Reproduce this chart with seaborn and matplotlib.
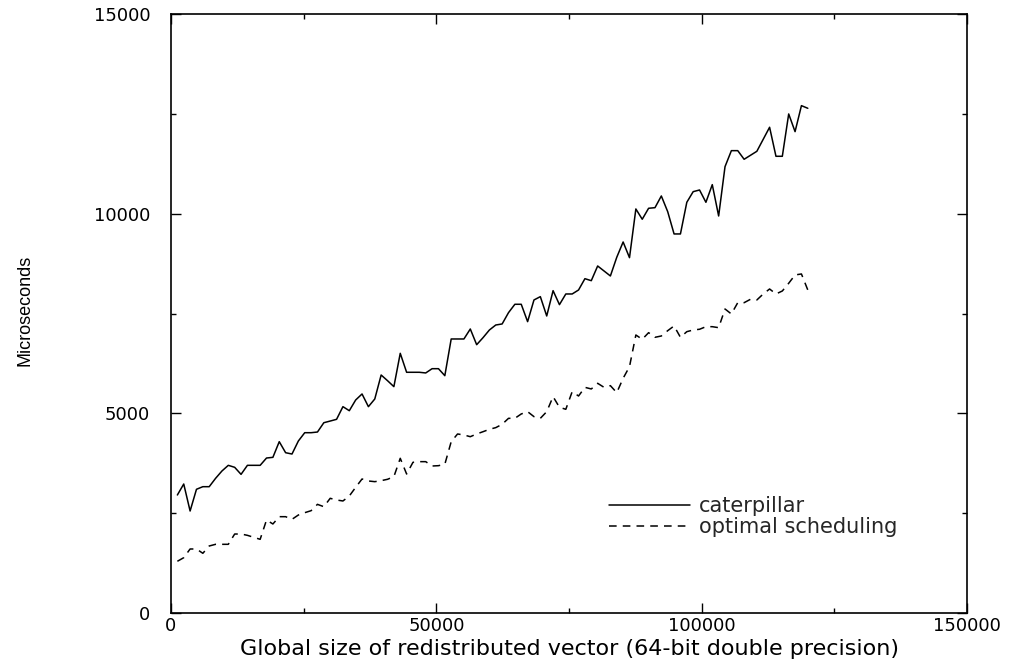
import numpy as np
import pandas as pd
import matplotlib
matplotlib.use('Agg')
import matplotlib.pyplot as plt
import seaborn as sns
from matplotlib.ticker import MultipleLocator
from matplotlib.lines import Line2D

# vector sizes (x) and timings in microseconds
sizes = list(range(1200, 120001, 1200))

caterpillar = [
    2955, 3230, 2554, 3098, 3163, 3163, 3372, 3556, 3698, 3648,
    3472, 3698, 3698, 3698, 3881, 3898, 4290, 4014, 3981, 4307,
    4515, 4515, 4532, 4765, 4807, 4850, 5167, 5066, 5334, 5485,
    5167, 5359, 5960, 5818, 5668, 6503, 6028, 6028, 6028, 6011,
    6118, 6118, 5943, 6862, 6862, 6862, 7112, 6719, 6895, 7087,
    7212, 7238, 7521, 7731, 7731, 7296, 7839, 7922, 7438, 8072,
    7722, 7989, 7989, 8089, 8372, 8322, 8690, 8565, 8440, 8908,
    9291, 8898, 10118, 9860, 10135, 10150, 10443, 10050, 9492, 9492,
    10285, 10551, 10593, 10285, 10727, 9942, 11177, 11578, 11578, 11362,
    11462, 11562, 11863, 12164, 11437, 11437, 12497, 12054, 12705, 12639,
]

optimal = [
    1295, 1385, 1603, 1603, 1495, 1678, 1720, 1720, 1720, 1978,
    1978, 1945, 1895, 1845, 2329, 2229, 2412, 2412, 2346, 2454,
    2512, 2562, 2721, 2662, 2872, 2830, 2805, 2930, 3147, 3356,
    3306, 3289, 3314, 3348, 3414, 3874, 3481, 3774, 3790, 3790,
    3681, 3689, 3724, 4290, 4483, 4458, 4415, 4483, 4540, 4600,
    4642, 4725, 4875, 4875, 4984, 5042, 4917, 4875, 5042, 5418,
    5151, 5101, 5543, 5434, 5651, 5610, 5752, 5651, 5693, 5518,
    5877, 6169, 6962, 6854, 7020, 6904, 6937, 7070, 7188, 6904,
    7045, 7087, 7105, 7170, 7170, 7145, 7613, 7488, 7771, 7771,
    7856, 7839, 7989, 8114, 7989, 8064, 8257, 8465, 8490, 8089,
]

methods = ['caterpillar', 'optimal scheduling']

df = pd.DataFrame({
    'size': sizes + sizes,
    'time': caterpillar + optimal,
    'method': [methods[0]] * len(sizes) + [methods[1]] * len(sizes),
})

sns.set_style('ticks')
plt.rcParams['font.family'] = ['DejaVu Sans']

fig = plt.figure(figsize=(10.19, 6.65), dpi=100)
ax = fig.add_axes([171 / 1019, 52 / 665, 796 / 1019, 599 / 665])

line_dashes = {methods[0]: '', methods[1]: (5, 4)}
sns.lineplot(data=df, x='size', y='time', style='method', dashes=line_dashes,
             color='black', linewidth=1.1, ax=ax, legend=False)

ax.set_xlim(0, 150000)
ax.set_ylim(0, 15000)
ax.xaxis.set_major_locator(MultipleLocator(50000))
ax.xaxis.set_minor_locator(MultipleLocator(25000))
ax.yaxis.set_major_locator(MultipleLocator(5000))
ax.yaxis.set_minor_locator(MultipleLocator(2500))
ax.tick_params(which='both', direction='in', top=True, right=True,
               color='black', width=1.0, labelsize=13, labelcolor='black')
ax.tick_params(which='major', length=7)
ax.tick_params(which='minor', length=3.5)
ax.tick_params(axis='x', pad=3)
ax.tick_params(axis='y', pad=15)
for s in ax.spines.values():
    s.set_linewidth(1.2)
    s.set_color('black')

ax.set_xlabel('Global size of redistributed vector (64-bit double precision)',
              fontsize=16, color='black')
ax.xaxis.set_label_coords(0.5, -0.0435)
ax.set_ylabel('Microseconds', fontsize=13, color='black',
              family=['Liberation Sans Narrow', 'Liberation Sans'])
ax.yaxis.set_label_coords(-0.173, 0.506)

handles = [Line2D([], [], color='black', lw=1.1),
           Line2D([], [], color='black', lw=1.1, dashes=(5, 4))]
ax.legend(handles, methods, frameon=False, fontsize=15, loc='center left',
          bbox_to_anchor=(0.527, 0.161), handlelength=3.9, handletextpad=0.4,
          labelspacing=0.05)

fig.savefig('out.png', dpi=100)
